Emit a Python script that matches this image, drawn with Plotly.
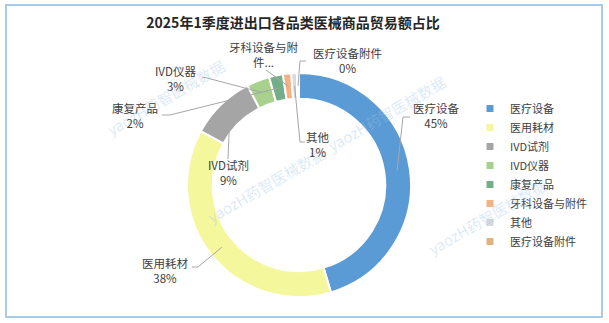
import math
import plotly.graph_objects as go

# ---------------- data ----------------
categories = ["医疗设备", "医用耗材", "IVD试剂", "IVD仪器", "康复产品", "牙科设备与附件", "其他", "医疗设备附件"]
shares = [45.4, 37.6, 9.4, 3.3, 2.0, 1.2, 0.8, 0.3]
colors = ["#5B9BD5", "#F4F79C", "#A5A5A5", "#A9D18E", "#72AE88", "#F4B183", "#D9D9D9", "#DFB27E"]
title_text = "2025年1季度进出口各品类医械商品贸易额占比"
watermark = "yaozH药智医械数据"

W, H = 609, 323
CX, CY, R = 299, 185, 112
HOLE = 0.77

# label placement (pixel layout): text centre, elbow, line end
label_layout = {
    "医疗设备": dict(text=(436, 116), elbow=(403, 117), end=(410, 117)),
    "医用耗材": dict(text=(165, 270), elbow=(198, 267), end=(192, 267)),
    "IVD试剂": dict(text=(228, 172), elbow=(228, 159), end=(228, 159)),
    "IVD仪器": dict(text=(175, 78), elbow=(207, 78), end=(202, 77)),
    "康复产品": dict(text=(135, 116), elbow=(170, 115), end=(162, 115)),
    "牙科设备与附件": dict(text=(263, 55), elbow=(266, 70), end=(266, 70), display="牙科设备与附<br>件..."),
    "其他": dict(text=(318, 144), elbow=(300, 142), end=(305, 142)),
    "医疗设备附件": dict(text=(347, 60), elbow=(300, 61), end=(306, 61)),
}


def px(x, y):
    return x / W, 1 - y / H


fig = go.Figure()

x0, _ = px(CX - R, 0)
x1, _ = px(CX + R, 0)
_, yb = px(0, CY + R)
_, yt = px(0, CY - R)
fig.add_trace(go.Pie(
    labels=categories, values=shares, sort=False, direction="clockwise", rotation=0,
    hole=HOLE, textinfo="none", hoverinfo="label+percent",
    marker=dict(colors=colors, line=dict(color="white", width=2)),
    domain=dict(x=[x0, x1], y=[yb, yt]), showlegend=False,
))

# legend via empty square-marker traces
for c, col in zip(categories, colors):
    fig.add_trace(go.Scatter(x=[None], y=[None], mode="markers", name=c,
                             marker=dict(symbol="square", size=7, color=col)))

total = sum(shares)
shapes = []
annotations = []

# watermarks (drawn first so they sit under labels)
for (wx, wy) in [(100, 52), (452, 68), (201, 230), (553, 262)]:
    a, b = px(wx, wy)
    annotations.append(dict(x=a, y=b, xref="paper", yref="paper", text=watermark,
                            showarrow=False, textangle=-30,
                            font=dict(size=15, color="rgba(155,194,230,0.35)")))

cum = 0.0
rmid = R * (1 + HOLE) / 2
for c, v in zip(categories, shares):
    mid = (cum + v / 2) / total
    cum += v
    th = 2 * math.pi * mid
    sx = CX + rmid * math.sin(th)
    sy = CY - rmid * math.cos(th)
    L = label_layout[c]
    pts = [(sx, sy), L["elbow"], L["end"]]
    path = "M " + " L ".join(f"{px(a, b)[0]:.5f},{px(a, b)[1]:.5f}" for a, b in pts)
    shapes.append(dict(type="path", xref="paper", yref="paper", path=path,
                       line=dict(color="#A6A6A6", width=1)))
    pct = round(v / total * 100)
    txt = L.get("display", f"{c}<br>{pct}%")
    tx, ty = px(*L["text"])
    annotations.append(dict(x=tx, y=ty, xref="paper", yref="paper", text=txt,
                            showarrow=False, xanchor="center", yanchor="middle",
                            font=dict(size=11.5, color="#404040")))

# border
bx0, by0 = px(6, 5)
bx1, by1 = px(602, 317)
shapes.append(dict(type="rect", xref="paper", yref="paper", x0=bx0, y0=by1, x1=bx1, y1=by0,
                   line=dict(color="#A9CBEA", width=2), layer="below"))

tx, ty = px(293, 23)
fig.update_layout(
    width=W, height=H, margin=dict(l=0, r=0, t=0, b=0),
    paper_bgcolor="white", plot_bgcolor="white",
    font=dict(family="Noto Sans CJK SC, sans-serif", color="#404040"),
    title=dict(text="<b>" + title_text + "</b>", x=tx, y=ty, xanchor="center", yanchor="middle",
               font=dict(size=14, color="#262626")),
    xaxis=dict(visible=False), yaxis=dict(visible=False),
    showlegend=True,
    legend=dict(x=px(470, 0)[0], y=px(0, 94)[1], xanchor="left", yanchor="top",
                font=dict(size=11, color="#404040"), bgcolor="rgba(0,0,0,0)",
                tracegroupgap=0, itemwidth=30),
    shapes=shapes, annotations=annotations,
)

fig.write_html("out.html")
